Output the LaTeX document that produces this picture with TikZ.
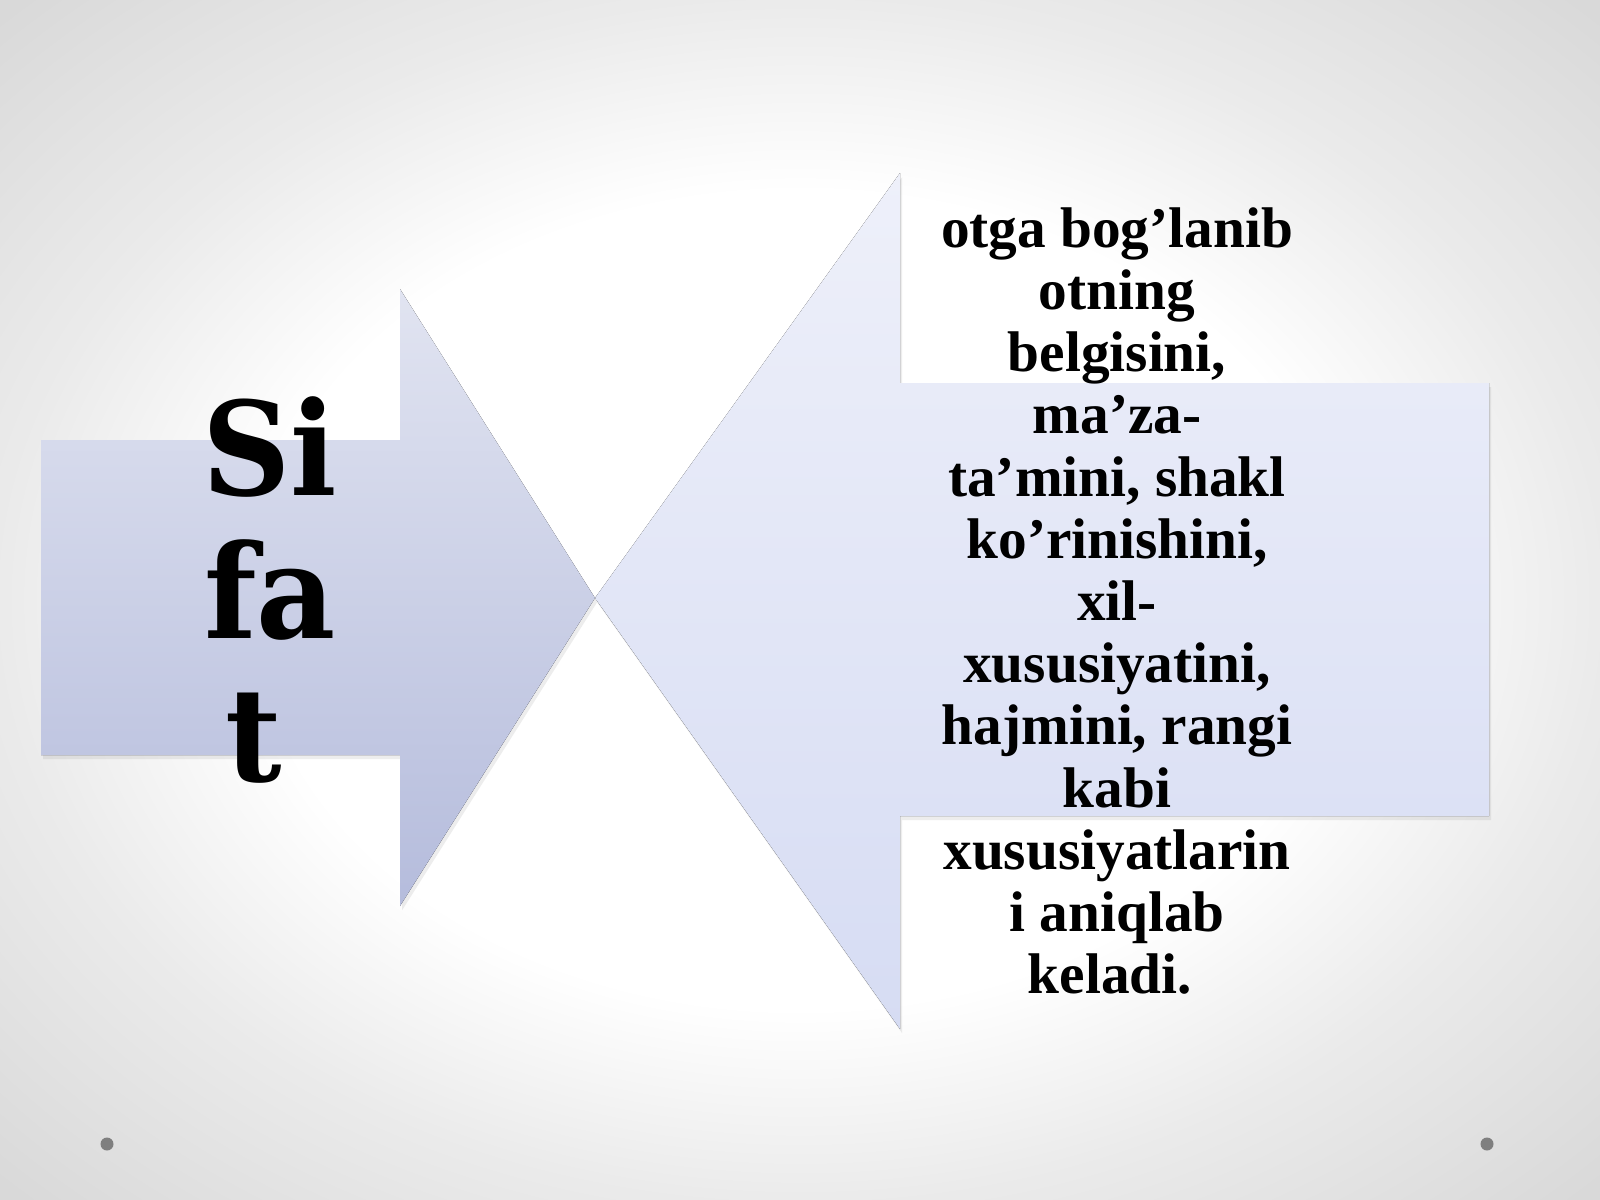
\documentclass[tikz,border=0pt]{standalone}
\usepackage{fontspec}
\setmainfont{Liberation Serif}
\newfontfamily\wordfont[FakeStretch=0.94]{DejaVu Serif}
\usetikzlibrary{positioning, shadows}
\pgfdeclareradialshading{slidebg}{\pgfpoint{0bp}{0bp}}{%
	color(0bp)=(white); color(17bp)=(white); color(25bp)=(black!8);
	color(35bp)=(black!15); color(50bp)=(black!15)}
\definecolor{leftTop}{HTML}{E1E4F1}
\definecolor{leftBot}{HTML}{B5BCDC}
\definecolor{rightTop}{HTML}{EEF0FA}
\definecolor{rightBot}{HTML}{D6DCF3}
\definecolor{dotgray}{HTML}{7F7F7F}
\tikzset{
	backgroundcolor/.style ={shading=slidebg},
	arrowshape/.append style={
		draw=none,
		drop shadow={shadow xshift=0.6pt, shadow yshift=-1.2pt, opacity=0.14},
	},
	wordtext/.append style={
		align = center,
		inner sep=0mm,
		font={\wordfont\bfseries\fontsize{37}{40.7}\selectfont}
	},
	meaningtext/.append style={
		align = center,
		inner sep=0mm,
		font={\bfseries\fontsize{16.3}{17.7}\selectfont}
	},
}

\begin{document}
\begin{tikzpicture}[x=0.01cm, y=-0.01cm]

\fill[backgroundcolor] (0,0) rectangle (1600,1200);
\useasboundingbox (0,0) rectangle (1600,1200);

% right arrow, pointing left
\coordinate (tip) at (595,598);
\fill[arrowshape, top color=rightTop, bottom color=rightBot]
	(900,173) -- (900,383) -- (1489,383) -- (1489,816) -- (900,816) -- (900,1029) -- (tip) -- cycle;

% left arrow, pointing right
\fill[arrowshape, top color=leftTop, bottom color=leftBot]
	(41,440) -- (400,440) -- (400,289) -- (tip) -- (400,906) -- (400,755) -- (41,755) -- cycle;

\node(word)[wordtext] at (270,590) {Si\\fa\\t\hspace*{0.25em}};

\node(meaning)[meaningtext] at (1117,601) {otga bog’lanib\\otning\\belgisini,\\ma’za-\\ta’mini, shakl\\ko’rinishini,\\xil-\\xususiyatini,\\hajmini, rangi\\kabi\\xususiyatlarin\\i aniqlab\\keladi.\hspace*{0.25em}};

\fill[dotgray] (107,1144) circle (6.5);
\fill[dotgray] (1487,1144) circle (6.5);

\end{tikzpicture}
\end{document}
